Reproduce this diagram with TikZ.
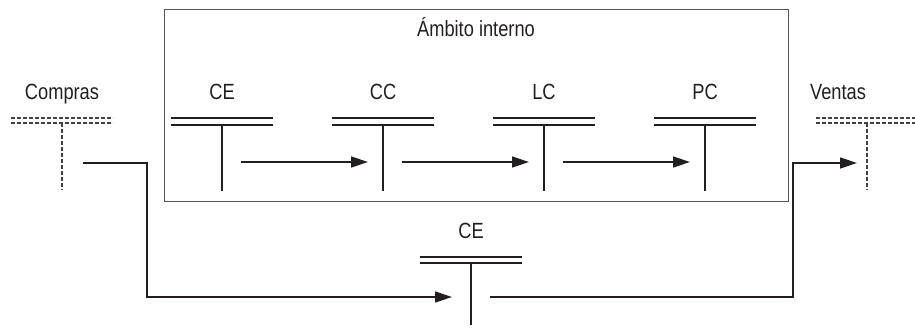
\documentclass[tikz,border=0pt]{standalone}
\usepackage{fontspec}
\setmainfont{Liberation Sans}[FakeStretch=0.83]
\usetikzlibrary{arrows.meta}
\definecolor{ink}{HTML}{231F20}
\definecolor{boxc}{HTML}{555555}
\tikzset{
  lbl/.style={font=\fontsize{22}{24}\selectfont, text=ink, inner sep=0pt, anchor=base},
  ln/.style={draw=ink, line width=1.4pt},
  dln/.style={draw=ink!85, line width=1.4pt, dash pattern=on 4pt off 2pt},
  arr/.style={ln, -{Triangle[length=17pt,width=11pt]}},
}
\begin{document}
\begin{tikzpicture}[x=1pt,y=-1pt]
\useasboundingbox (0,0) rectangle (915,329);
\begin{scope}
\clip (0,0) rectangle (915,329);
% internal box
\node[draw=boxc, line width=1.4pt, minimum width=624pt, minimum height=192pt, inner sep=0pt, anchor=north west] (box) at (164,9) {};
\node[lbl] (tit) at (476,37) {Ámbito interno};
% T accounts inside
\foreach \n/\x/\t in {ce/222/CE, cc/383/CC, lc/544/LC, pc/705/PC}{
  \node[lbl] (\n lab) at (\x,99) {\t};
  \coordinate (\n) at (\x,125);
  \coordinate (\n b) at (\x,191);
  \draw[ln] (\x-51,118) -- (\x+51,118);
  \draw[ln] (\x-51,125) -- (\x+51,125);
  \draw[ln] (\n) -- (\n b);
  \coordinate (\n out) at (\x+19,162);
  \coordinate (\n in) at (\x-15,162);
}
\draw[arr] (ceout) -- (ccin);
\draw[arr] (ccout) -- (lcin);
\draw[arr] (lcout) -- (pcin);
% Compras
\node[lbl] (comlab) at (62,99) {Compras};
\coordinate (com) at (62,123);
\coordinate (comb) at (62,190);
\draw[dln] (11,118) -- (113,118);
\draw[dln] (11,123) -- (113,123);
\draw[dln] (com) -- (comb);
% Ventas
\node[lbl] (venlab) at (838,99) {Ventas};
\coordinate (ven) at (867,123);
\coordinate (venb) at (867,190);
\draw[dln] (816,118) -- (918,118);
\draw[dln] (816,123) -- (918,123);
\draw[dln] (ven) -- (venb);
% external CE
\node[lbl] (celab) at (471,238) {CE};
\coordinate (ext) at (471,263);
\coordinate (extb) at (471,325);
\draw[ln] (420,257) -- (522,257);
\draw[ln] (420,263) -- (522,263);
\draw[ln] (ext) -- (extb);
\coordinate (comout) at (83,163);
\coordinate (extin) at (452,297);
\coordinate (extout) at (490,297);
\coordinate (venin) at (857,163);
\draw[arr] (comout) -| (147,297) -- (extin);
\draw[arr] (extout) -| (793,163) -- (venin);
\end{scope}
\end{tikzpicture}
\end{document}
